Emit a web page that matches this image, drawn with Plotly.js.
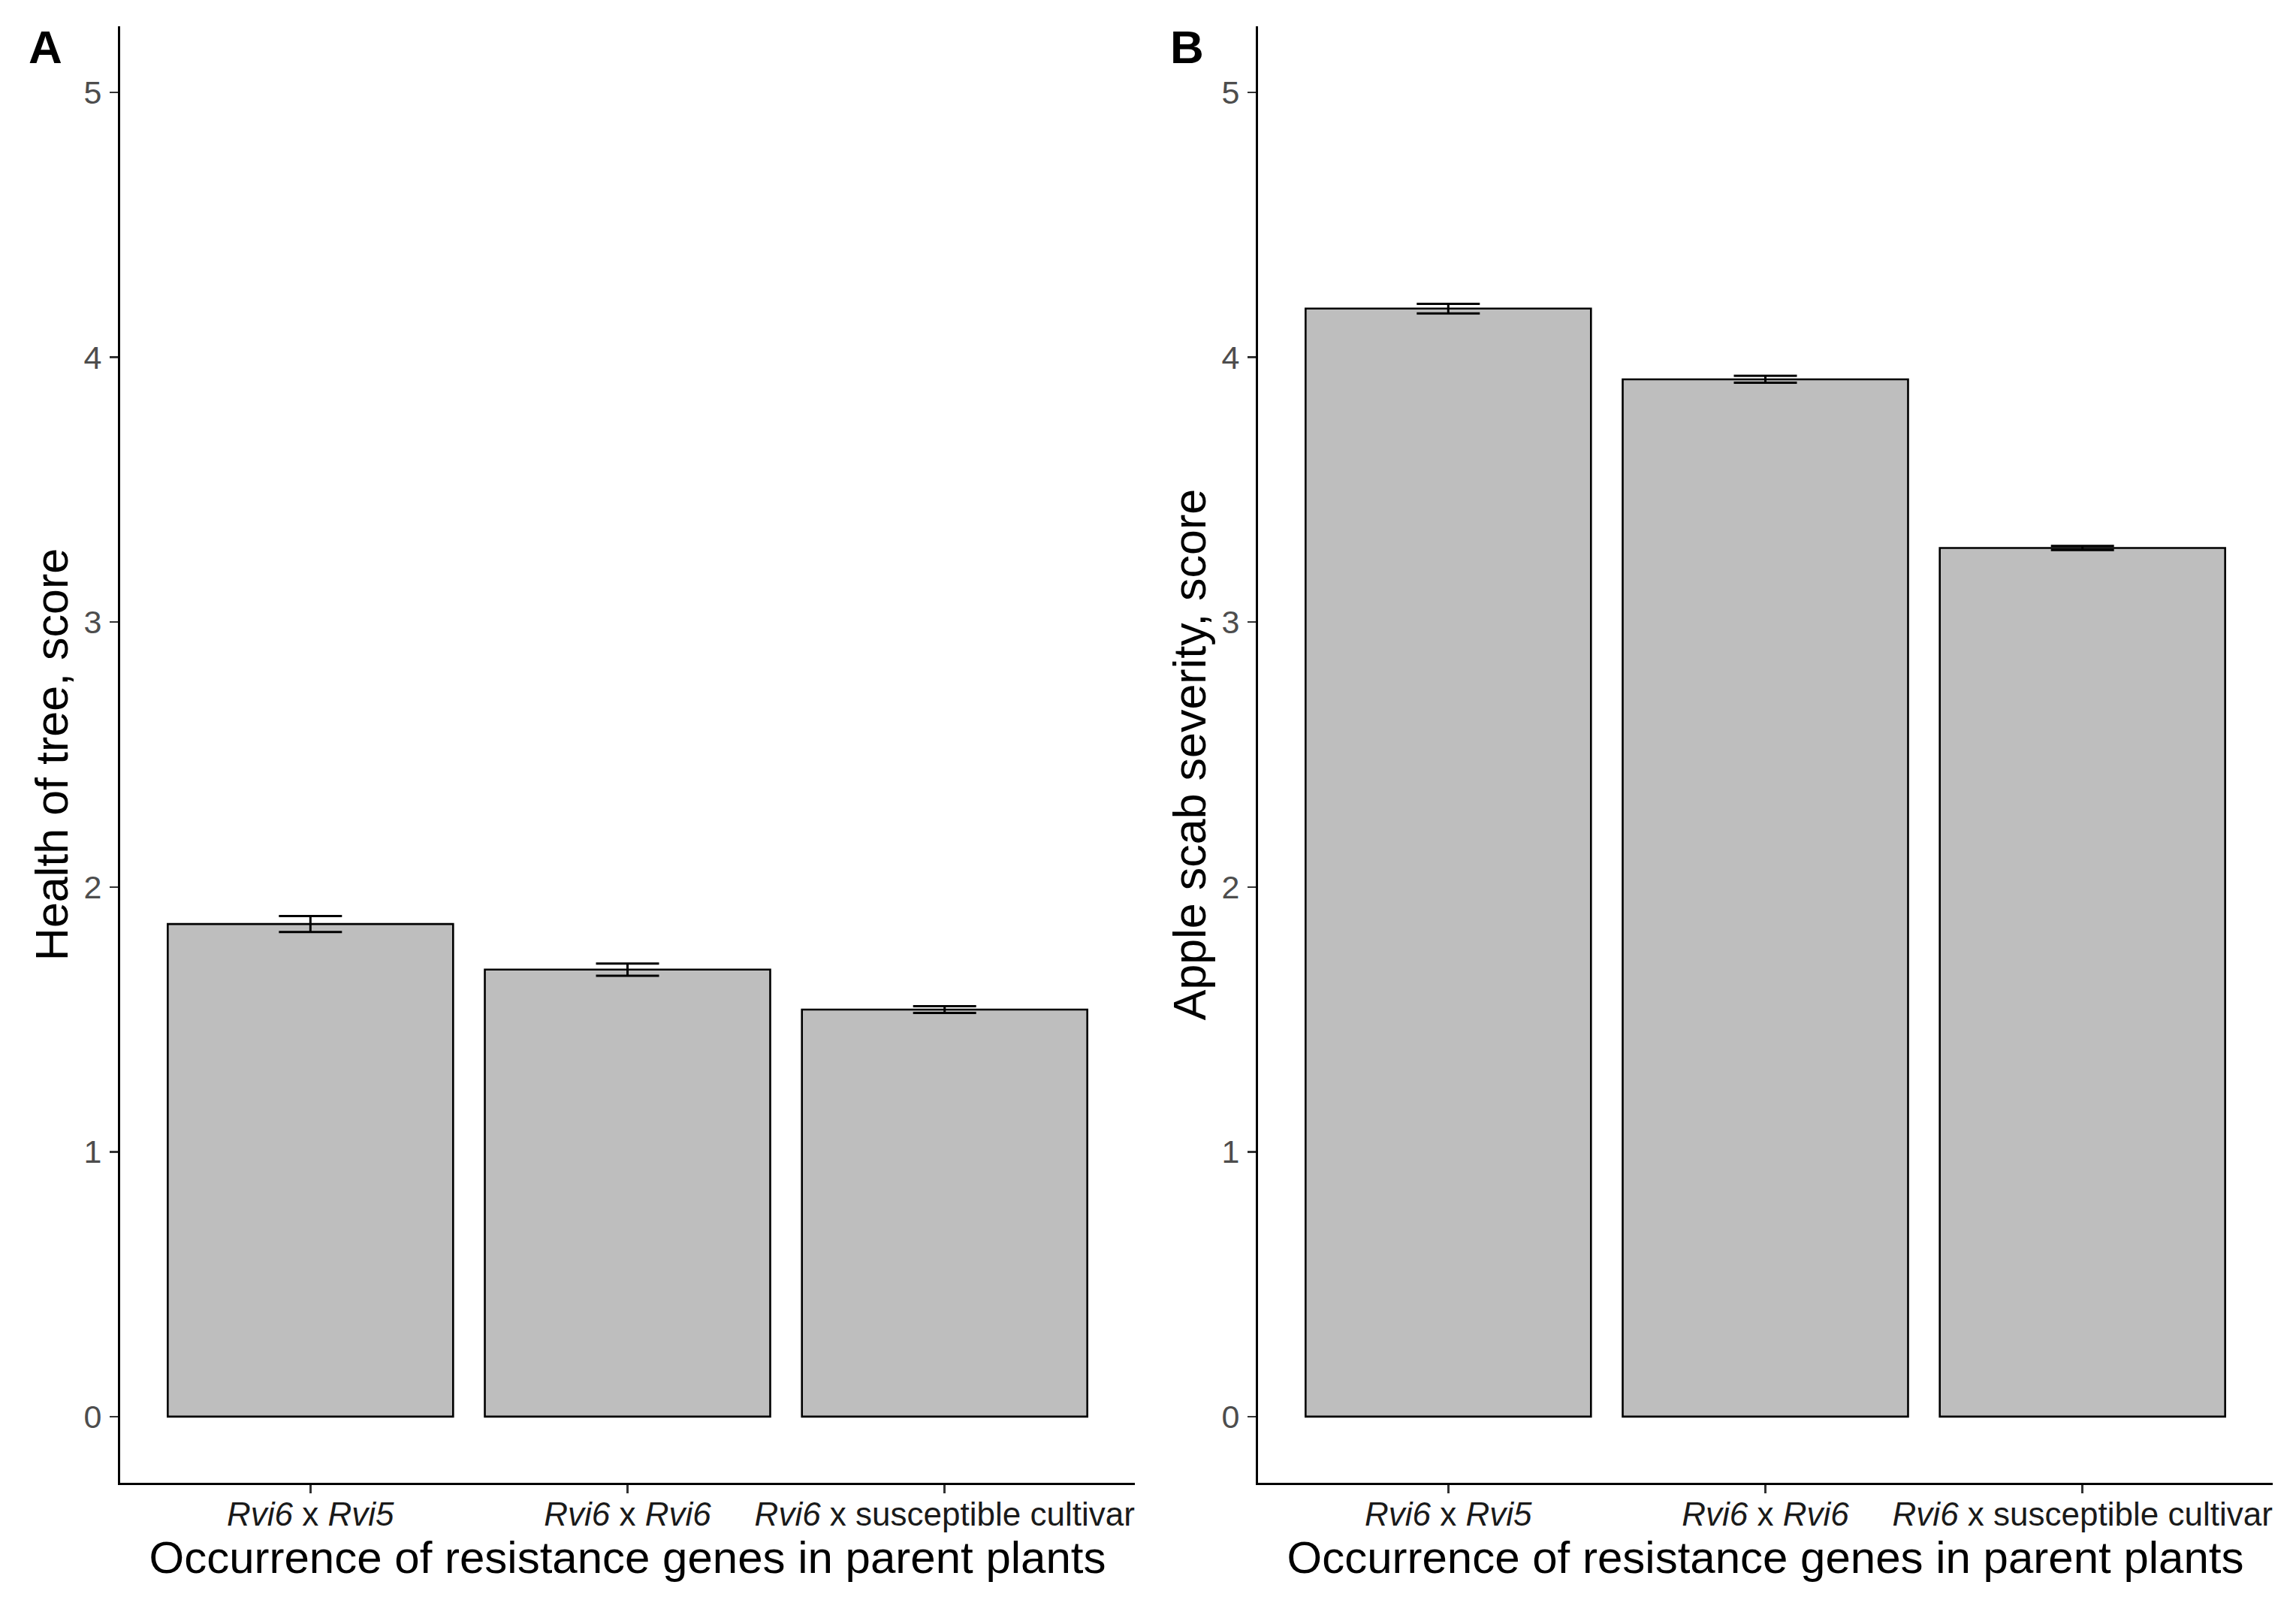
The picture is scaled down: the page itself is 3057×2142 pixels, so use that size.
<!DOCTYPE html>
<html>
<head>
<meta charset="utf-8">
<script src="https://cdn.plot.ly/plotly-3.0.1.min.js"></script>
<style>html,body{margin:0;padding:0;background:#fff;}#chart{width:3057px;height:2142px;}</style>
</head>
<body>
<div id="chart"></div>
<script>
// Data
const categories = ["Rvi6 x Rvi5", "Rvi6 x Rvi6", "Rvi6 x susceptible cultivar"];
const tickLabels = ["<i>Rvi6</i> x <i>Rvi5</i>", "<i>Rvi6</i> x <i>Rvi6</i>", "<i>Rvi6</i> x susceptible cultivar"];
const healthMean = [1.86, 1.688, 1.537];
const healthSE = [0.030, 0.023, 0.013];
const scabMean = [4.184, 3.917, 3.280];
const scabSE = [0.018, 0.013, 0.008];
const yTicks = [0, 1, 2, 3, 4, 5];

const FONT = "Liberation Sans, Arial, sans-serif";
const barStyle = {color: "#BEBEBE", line: {color: "#000000", width: 2.6}};
function errStyle(arr) {
  return {type: "data", array: arr, visible: true, color: "#000000", thickness: 3, width: 42};
}

const traces = [
  {type: "bar", x: categories, y: healthMean, width: 0.9, marker: barStyle,
   error_y: errStyle(healthSE), xaxis: "x", yaxis: "y", hoverinfo: "x+y"},
  {type: "bar", x: categories, y: scabMean, width: 0.9, marker: barStyle,
   error_y: errStyle(scabSE), xaxis: "x2", yaxis: "y2", hoverinfo: "x+y"}
];

function xAxis(domain, anchor) {
  return {
    domain: domain, anchor: anchor, type: "category",
    range: [-0.6, 2.6], categoryorder: "array", categoryarray: categories,
    tickvals: categories, ticktext: tickLabels,
    showline: true, linecolor: "#000000", linewidth: 3,
    ticks: "outside", ticklen: 11, tickwidth: 2.5, tickcolor: "#333333",
    showgrid: false, zeroline: false,
    tickfont: {family: FONT, size: 44, color: "#1a1a1a"},
    ticklabelstandoff: -10,
    title: {text: "Occurrence of resistance genes in parent plants",
            font: {family: FONT, size: 60, color: "#000000"}, standoff: 12},
    automargin: false
  };
}
function yAxis(domain, anchor, title) {
  return {
    domain: domain, anchor: anchor, range: [-0.25, 5.25],
    tickvals: yTicks,
    showline: true, linecolor: "#000000", linewidth: 3,
    ticks: "outside", ticklen: 11, tickwidth: 2.5, tickcolor: "#333333",
    showgrid: false, zeroline: false,
    tickfont: {family: FONT, size: 43, color: "#4D4D4D"},
    ticklabelstandoff: 2,
    title: {text: title, font: {family: FONT, size: 61, color: "#000000"}, standoff: 2},
    automargin: false
  };
}

const yDom = [0.07843, 0.98366];
const layout = {
  width: 3057, height: 2142,
  margin: {l: 0, r: 0, t: 0, b: 0},
  paper_bgcolor: "#ffffff", plot_bgcolor: "#ffffff",
  showlegend: false,
  font: {family: FONT},
  xaxis: xAxis([0.05234, 0.49428], "y"),
  yaxis: yAxis(yDom, "x", "Health of tree, score"),
  xaxis2: xAxis([0.54792, 0.98986], "y2"),
  yaxis2: yAxis(yDom, "x2", "Apple scab severity, score"),
  annotations: [
    {text: "<b>A</b>", xref: "paper", yref: "paper", x: 36 / 3057, y: 1 - 62 / 2142,
     xanchor: "left", yanchor: "middle", showarrow: false,
     font: {family: FONT, size: 62, color: "#000000"}},
    {text: "<b>B</b>", xref: "paper", yref: "paper", x: 1556 / 3057, y: 1 - 62 / 2142,
     xanchor: "left", yanchor: "middle", showarrow: false,
     font: {family: FONT, size: 62, color: "#000000"}}
  ]
};

Plotly.newPlot("chart", traces, layout, {staticPlot: true, displayModeBar: false});
</script>
</body>
</html>
